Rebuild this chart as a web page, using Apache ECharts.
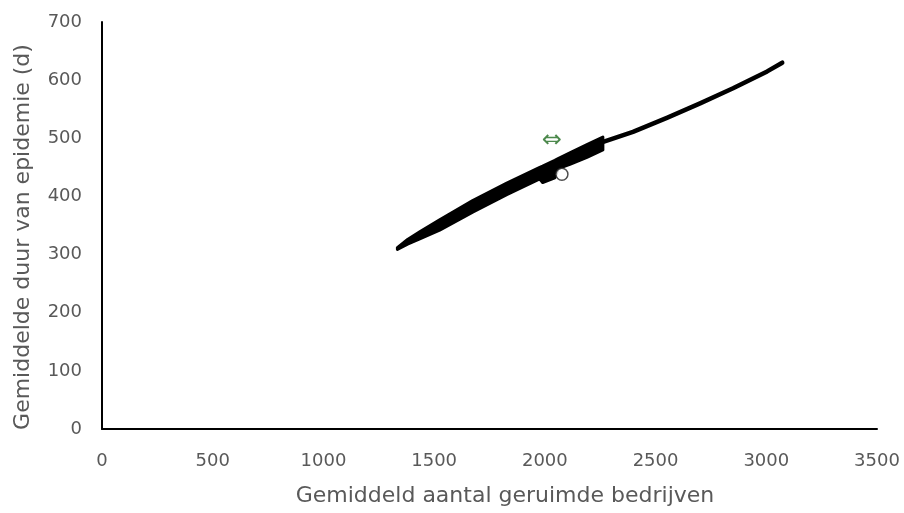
<!DOCTYPE html>
<html>
<head>
<meta charset="utf-8">
<script src="https://cdn.jsdelivr.net/npm/echarts@6/dist/echarts.min.js"></script>
<style>
html,body{margin:0;padding:0;background:#fff;}
#chart{width:904px;height:513px;}
</style>
</head>
<body>
<div id="chart"></div>
<script>
// Axis ticks
var xTicks = [0, 500, 1000, 1500, 2000, 2500, 3000, 3500];
var yTicks = [0, 100, 200, 300, 400, 500, 600, 700];

// Dense part of the cloud of simulation results: x positions, upper and lower edges
var bandX      = [1334, 1380, 1435, 1525, 1674, 1828, 1977, 1990, 2045, 2060, 2113, 2190, 2262];
var bandTop    = [312,  326,  339,  360,  393,  423,  450,  452,  462,  465,  475,  489,  502];
var bandBottom = [309,  318,  327,  342,  373,  403,  430,  424,  432,  448,  455,  467,  480];

// Sparse tail of the cloud
var tailX = [2250, 2398, 2551, 2701, 2850, 3004, 3072];
var tailY = [492,  511,  535,  560,  586,  615,  630];

// Reference point (open circle) and the arrow marker
var refPoint = [2077, 438];
var arrowPoint = [2031, 495];
var arrowText = '\u21D4';

var xTitle = 'Gemiddeld aantal geruimde bedrijven';
var yTitle = 'Gemiddelde duur van epidemie (d)';

var FONT = '"DejaVu Sans", sans-serif';
var chart = echarts.init(document.getElementById('chart'), null, {renderer: 'canvas'});

var tailData = tailX.map(function (x, i) { return [x, tailY[i]]; });

var option = {
  animation: false,
  backgroundColor: '#ffffff',
  grid: {left: 102, right: 27, top: 22, bottom: 84, containLabel: false},
  xAxis: {
    type: 'value', min: xTicks[0], max: xTicks[xTicks.length - 1], interval: 500,
    axisLine: {show: true, onZero: false, lineStyle: {color: '#000', width: 2}},
    axisTick: {show: false},
    splitLine: {show: false},
    axisLabel: {color: '#595959', fontSize: 18, fontFamily: FONT, margin: 23,
      formatter: function (v) { return String(v); }}
  },
  yAxis: {
    type: 'value', min: yTicks[0], max: yTicks[yTicks.length - 1], interval: 100,
    axisLine: {show: true, onZero: false, lineStyle: {color: '#000', width: 2}},
    axisTick: {show: false},
    splitLine: {show: false},
    axisLabel: {color: '#595959', fontSize: 18, fontFamily: FONT, margin: 20,
      formatter: function (v) { return String(v); }}
  },
  graphic: [
    {type: 'text', x: 505, y: 496, style: {text: xTitle, fill: '#595959', font: '22px ' + FONT, textAlign: 'center', textVerticalAlign: 'middle'}},
    {type: 'text', x: 23, y: 237, rotation: Math.PI / 2, style: {text: yTitle, fill: '#595959', font: '22px ' + FONT, textAlign: 'center', textVerticalAlign: 'middle'}}
  ],
  series: [
    {
      type: 'custom',
      data: [[bandX[0], bandTop[0]]],
      z: 3,
      renderItem: function (params, api) {
        var pts = [];
        for (var i = 0; i < bandX.length; i++) pts.push(api.coord([bandX[i], bandTop[i]]));
        for (var j = bandX.length - 1; j >= 0; j--) pts.push(api.coord([bandX[j], bandBottom[j]]));
        return {
          type: 'polygon',
          shape: {points: pts},
          style: {fill: '#000', stroke: '#000', lineWidth: 3, lineJoin: 'round'}
        };
      }
    },
    {
      type: 'line',
      data: tailData,
      showSymbol: false,
      symbol: 'none',
      z: 3,
      lineStyle: {color: '#000', width: 4.5, cap: 'round', join: 'round'}
    },
    {
      type: 'scatter',
      data: [refPoint],
      symbol: 'circle',
      symbolSize: 12,
      z: 5,
      itemStyle: {color: '#fff', borderColor: '#222', borderWidth: 1.5}
    },
    {
      type: 'scatter',
      data: [arrowPoint],
      symbolSize: 0,
      z: 5,
      label: {show: true, position: 'inside', formatter: arrowText, color: '#1f6b1f', fontSize: 24, fontFamily: 'DejaVu Sans'}
    }
  ]
};
chart.setOption(option);
</script>
</body>
</html>
